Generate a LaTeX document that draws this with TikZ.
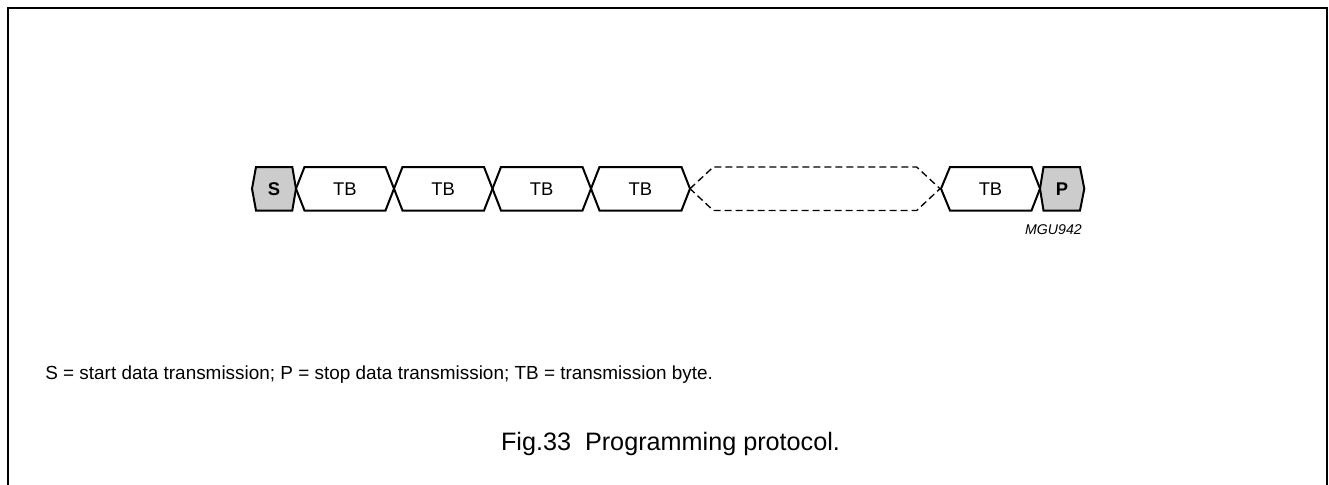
\documentclass[tikz,border=0pt]{standalone}
\usepackage{fontspec}
\setmainfont{Liberation Sans}
\begin{document}
\begin{tikzpicture}[x=0.75pt,y=0.75pt]
		\tikzstyle{every node}+=[inner sep=0pt]
		\tikzstyle{field}=[black, line width=1.5pt]
		\tikzstyle{cond}=[field, fill={rgb,255:red,204;green,204;blue,204}]
		\tikzstyle{gap}=[black, line width=1pt, dash pattern=on 5.25pt off 3pt]
		\tikzstyle{lbl}=[font=\fontsize{13.8}{16}\selectfont]
		\useasboundingbox (0,0) rectangle (1329,-485);
		\draw [black, line width=1.5pt] (7.5,-485) -- (7.5,-8.5) -- (1327,-8.5) -- (1327,-485);
		\draw [cond] (252,-188.7) -- (256,-167) -- (292.3,-167) -- (296,-188.7) -- (292.3,-210.5) -- (256,-210.5) -- cycle;
		\node (s) [lbl] at (274,-188.7) {\bfseries S};
		\draw [field] (296,-188.7) -- (304.5,-167) -- (385.5,-167) -- (394,-188.7) -- (385.5,-210.5) -- (304.5,-210.5) -- cycle;
		\node (tb1) [lbl] at (345,-188.7) {TB};
		\draw [field] (394,-188.7) -- (402.5,-167) -- (484,-167) -- (492.5,-188.7) -- (484,-210.5) -- (402.5,-210.5) -- cycle;
		\node (tb2) [lbl] at (443.2,-188.7) {TB};
		\draw [field] (492.5,-188.7) -- (501,-167) -- (582.5,-167) -- (591,-188.7) -- (582.5,-210.5) -- (501,-210.5) -- cycle;
		\node (tb3) [lbl] at (541.7,-188.7) {TB};
		\draw [field] (591,-188.7) -- (599.5,-167) -- (681.5,-167) -- (690,-188.7) -- (681.5,-210.5) -- (599.5,-210.5) -- cycle;
		\node (tb4) [lbl] at (640.5,-188.7) {TB};
		\draw [gap] (690,-188.7) -- (713.3,-167) -- (916.7,-167) -- (940,-188.7) -- (916.7,-210.5) -- (713.3,-210.5) -- cycle;
		\draw [field] (941,-188.7) -- (950,-167) -- (1031.5,-167) -- (1040,-188.7) -- (1031.5,-210.5) -- (950,-210.5) -- cycle;
		\node (tb5) [lbl] at (990.5,-188.7) {TB};
		\draw [cond] (1040,-188.7) -- (1043.5,-167) -- (1080,-167) -- (1084.3,-188.7) -- (1080,-210.5) -- (1043.5,-210.5) -- cycle;
		\node (p) [lbl] at (1062,-188.7) {\bfseries P};
		\node (code) [anchor=base east, font=\fontsize{10.6}{12}\selectfont\itshape] at (1082,-234.3) {MGU942};
		\node (key) [anchor=base west, font=\fontsize{14.2}{16}\selectfont] at (45,-379) {S = start data transmission; P = stop data transmission; TB = transmission byte.};
		\node (caption) [anchor=base, font=\fontsize{18.9}{22}\selectfont] at (670.5,-450) {Fig.33\ \ Programming protocol.};
	\end{tikzpicture}
\end{document}
